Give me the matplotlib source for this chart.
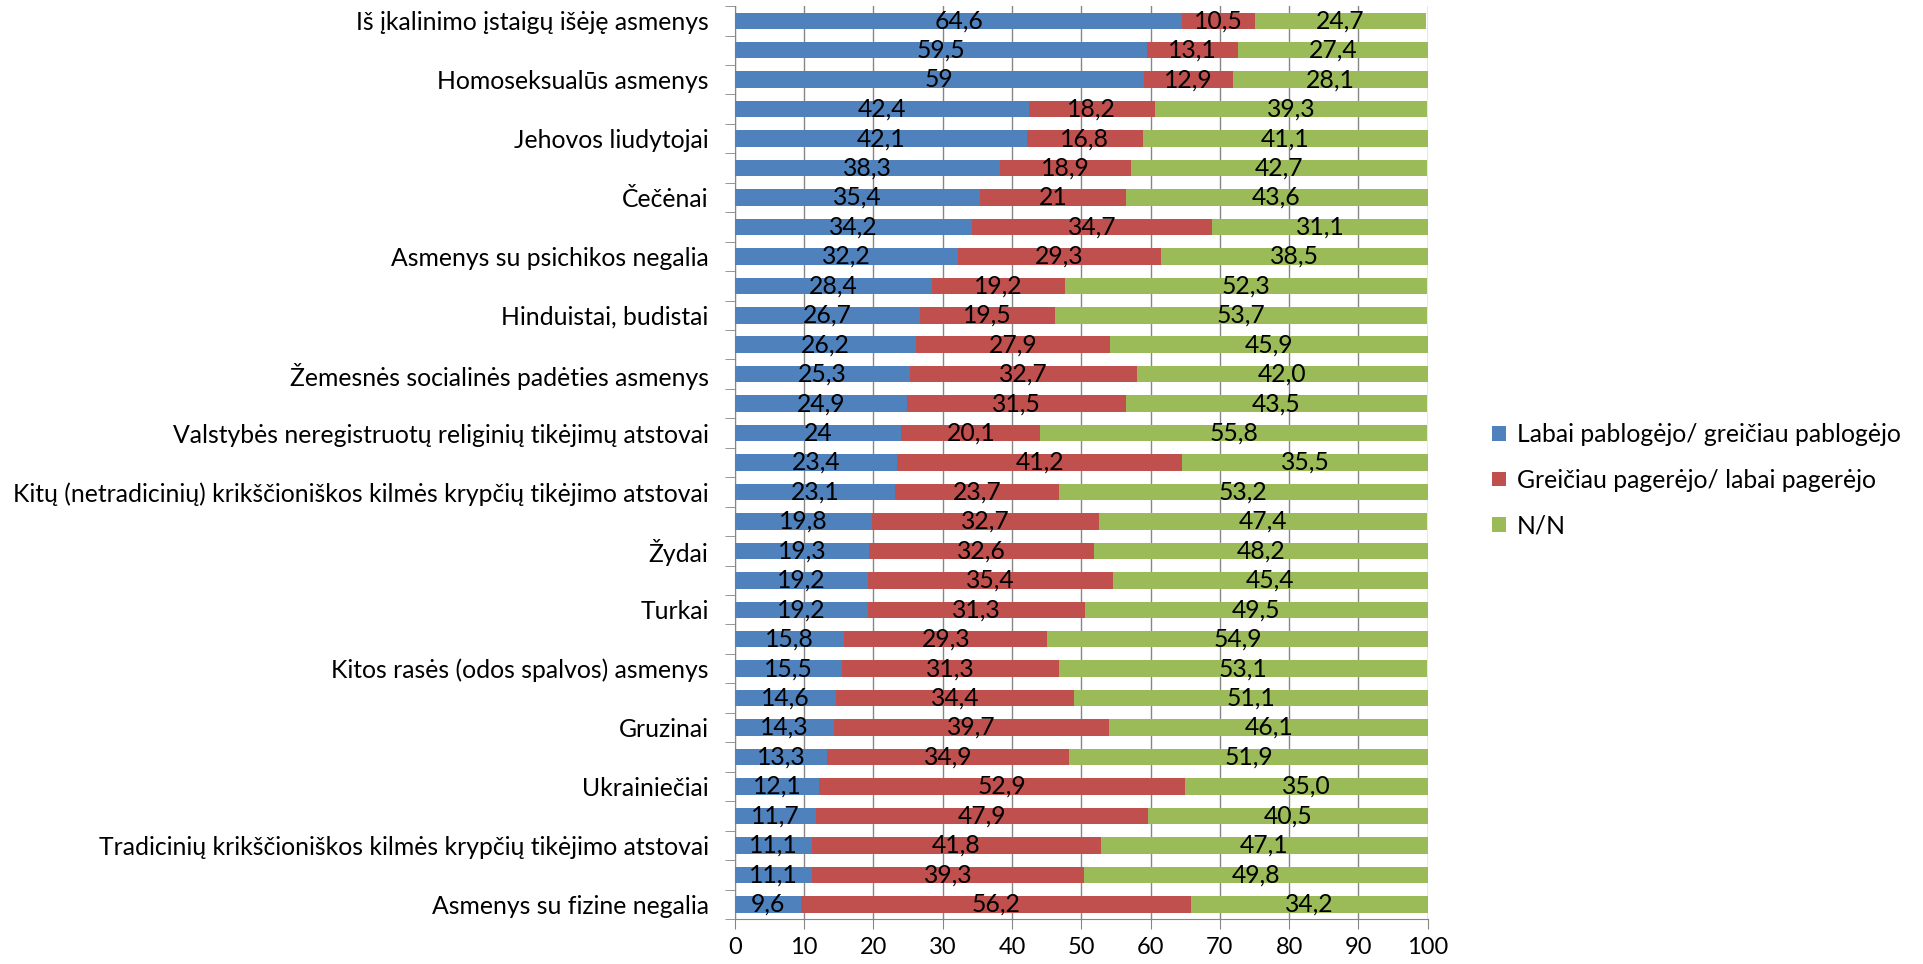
# Stacked horizontal bars - attitude change towards social groups
import numpy as np
import matplotlib.pyplot as plt
from matplotlib.patches import Patch

plt.rcParams['font.family'] = ['Lato', 'DejaVu Sans']

# category labels (only every second row carries a visible label)
categories = [
    "Iš įkalinimo įstaigų išėję asmenys", "",
    "Homoseksualūs asmenys", "",
    "Jehovos liudytojai", "",
    "Čečėnai", "",
    "Asmenys su psichikos negalia", "",
    "Hinduistai, budistai", "",
    "Žemesnės socialinės padėties asmenys", "",
    "Valstybės neregistruotų religinių tikėjimų atstovai", "",
    "Kitų (netradicinių) krikščioniškos kilmės krypčių tikėjimo atstovai", "",
    "Žydai", "",
    "Turkai", "",
    "Kitos rasės (odos spalvos) asmenys", "",
    "Gruzinai", "",
    "Ukrainiečiai", "",
    "Tradicinių krikščioniškos kilmės krypčių tikėjimo atstovai", "",
    "Asmenys su fizine negalia",
]

worse = [64.6, 59.5, 59, 42.4, 42.1, 38.3, 35.4, 34.2, 32.2, 28.4, 26.7,
         26.2, 25.3, 24.9, 24, 23.4, 23.1, 19.8, 19.3, 19.2, 19.2, 15.8,
         15.5, 14.6, 14.3, 13.3, 12.1, 11.7, 11.1, 11.1, 9.6]
better = [10.5, 13.1, 12.9, 18.2, 16.8, 18.9, 21, 34.7, 29.3, 19.2, 19.5,
          27.9, 32.7, 31.5, 20.1, 41.2, 23.7, 32.7, 32.6, 35.4, 31.3, 29.3,
          31.3, 34.4, 39.7, 34.9, 52.9, 47.9, 41.8, 39.3, 56.2]
dont_know = [24.7, 27.4, 28.1, 39.3, 41.1, 42.7, 43.6, 31.1, 38.5, 52.3, 53.7,
             45.9, 42.0, 43.5, 55.8, 35.5, 53.2, 47.4, 48.2, 45.4, 49.5, 54.9,
             53.1, 51.1, 46.1, 51.9, 35.0, 40.5, 47.1, 49.8, 34.2]

series_names = ["Labai pablogėjo/ greičiau pablogėjo",
                "Greičiau pagerėjo/ labai pagerėjo",
                "N/N"]
colors = ["#4F81BD", "#C0504D", "#9BBB59"]
formats = ["{:g}", "{:g}", "{:.1f}"]

fs = 17.8

fig = plt.figure(figsize=(19.24, 9.64), dpi=100)
ax = fig.add_axes([0.382, 0.0467, 0.360, 0.947])

y = np.arange(len(categories))
left = np.zeros(len(categories))
for vals, col, fmt in zip([worse, better, dont_know], colors, formats):
    vals = np.array(vals, dtype=float)
    ax.barh(y, vals, left=left, height=0.56, color=col, zorder=3)
    for yi, l, v in zip(y, left, vals):
        ax.text(l + v / 2, yi, fmt.format(v).replace(".", ","),
                ha="center", va="center", fontsize=fs, zorder=4)
    left += vals

ax.set_xlim(0, 100)
ax.set_ylim(len(categories) - 0.5, -0.5)
ax.set_xticks(np.arange(0, 101, 10))
ax.set_yticks(y)
ax.set_yticklabels(categories, fontsize=fs)
ax.set_yticks(np.arange(-0.5, len(categories), 1), minor=True)
ax.tick_params(axis="y", which="major", length=0, pad=19)
ax.tick_params(axis="y", which="minor", length=7, color="#868686")
ax.tick_params(axis="x", length=7, color="#868686", labelsize=17, pad=6)
ax.grid(axis="x", color="#868686", linewidth=1, zorder=0)

for side in ["top", "right"]:
    ax.spines[side].set_visible(False)
for side in ["left", "bottom"]:
    ax.spines[side].set_color("#868686")

handles = [Patch(facecolor=c, label=n) for c, n in zip(colors, series_names)]
fig.legend(handles=handles, loc="upper left", bbox_to_anchor=(0.769, 0.574),
           frameon=False, fontsize=fs, handlelength=0.55, handleheight=0.55,
           handletextpad=0.45, labelspacing=0.92, borderpad=0)

fig.savefig("out.png", dpi=100)
